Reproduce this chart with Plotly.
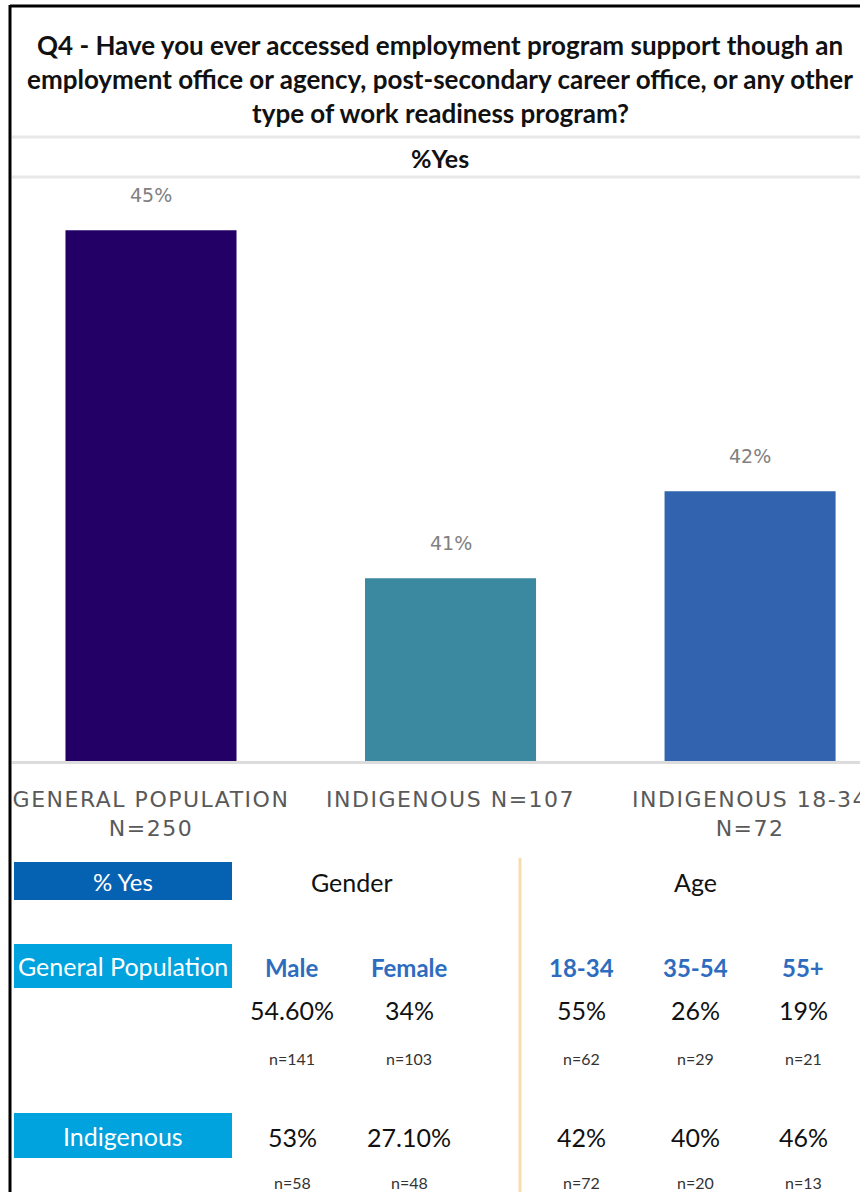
import plotly.graph_objects as go

# ---- chart data ----
categories = ["GENERAL POPULATION<br>N=250", "INDIGENOUS N=107", "INDIGENOUS 18-34<br>N=72"]
pct_yes = [45, 41, 42]
bar_colors = ["#220066", "#3a89a1", "#3163ae"]

title_lines = [
    "Q4 - Have you ever accessed employment program support though an",
    "employment office or agency, post-secondary career office, or any other",
    "type of work readiness program?",
]
subtitle = "%Yes"

# ---- breakdown table data ----
table_corner = "% Yes"
group_headers = ["Gender", "Age"]
subgroups = ["Male", "Female", "18-34", "35-54", "55+"]
row_labels = ["General Population", "Indigenous"]
gen_pop_pct = ["54.60%", "34%", "55%", "26%", "19%"]
gen_pop_n = [141, 103, 62, 29, 21]
indig_pct = ["53%", "27.10%", "42%", "40%", "46%"]
indig_n = [58, 48, 72, 20, 13]

# ---- page geometry (pixels) ----
W, H = 860, 1192
L, R, T, B = 12, 0, 180, 431
PW, PH = W - L - R, H - T - B
Y0 = H - B  # bottom of plot area in page pixels


def px(x):
    return (x - L) / PW


def py(y):
    return (Y0 - y) / PH


FONT_TXT = "Lato"
FONT_AX = "DejaVu Sans"

fig = go.Figure()
fig.add_trace(go.Bar(
    x=list(range(len(categories))),
    y=pct_yes,
    marker=dict(color=bar_colors, line=dict(width=0)),
    width=0.571,
    hoverinfo="skip",
))

annotations = []
shapes = []

# value labels above the bars
for i, v in enumerate(pct_yes):
    annotations.append(dict(
        x=i, y=v, xref="x", yref="y", text=f"{v}%", showarrow=False,
        yanchor="bottom", yshift=22,
        font=dict(family=FONT_AX, size=19, color="#808080"),
    ))

# title block
for j, line in enumerate(title_lines):
    annotations.append(dict(
        x=px(440), y=py(45 + 34 * j), xref="paper", yref="paper", text=f"<b>{line}</b>",
        showarrow=False, xanchor="center", yanchor="middle",
        font=dict(family=FONT_TXT, size=26, color="#111111"),
    ))
annotations.append(dict(
    x=px(440), y=py(158), xref="paper", yref="paper", text=f"<b>{subtitle}</b>",
    showarrow=False, xanchor="center", yanchor="middle",
    font=dict(family=FONT_TXT, size=25, color="#111111"),
))

# frame lines
shapes.append(dict(type="line", xref="paper", yref="paper", x0=px(10), x1=px(860), y0=py(6), y1=py(6),
                   line=dict(color="#000000", width=3)))
shapes.append(dict(type="line", xref="paper", yref="paper", x0=px(10), x1=px(10), y0=py(5), y1=py(1192),
                   line=dict(color="#000000", width=3)))
for yy in (137, 177):
    shapes.append(dict(type="line", xref="paper", yref="paper", x0=px(12), x1=px(860), y0=py(yy), y1=py(yy),
                       line=dict(color="#e8e8e8", width=3)))

# ---- table ----
def box(x0, x1, y0, y1, color):
    shapes.append(dict(type="rect", xref="paper", yref="paper", x0=px(x0), x1=px(x1), y0=py(y0), y1=py(y1),
                       fillcolor=color, line=dict(width=0), layer="above"))


def label(x, y, text, size, color, bold=False):
    annotations.append(dict(
        x=px(x), y=py(y), xref="paper", yref="paper",
        text=f"<b>{text}</b>" if bold else text, showarrow=False,
        xanchor="center", yanchor="middle",
        font=dict(family=FONT_TXT, size=size, color=color),
    ))


box(14, 232, 862, 900, "#0561b1")
label(123, 881, table_corner, 24, "#ffffff")
label(352, 882, group_headers[0], 25, "#111111")
label(695, 882, group_headers[1], 25, "#111111")

shapes.append(dict(type="line", xref="paper", yref="paper", x0=px(520), x1=px(520), y0=py(858), y1=py(1192),
                   line=dict(color="#f9dcae", width=3)))

col_x = [292, 409, 581, 695, 803]
box(14, 232, 944, 988, "#00a3de")
label(123, 966, row_labels[0], 25, "#ffffff")
for cx, s in zip(col_x, subgroups):
    label(cx, 967, s, 24, "#2e6cc0", bold=True)
for cx, v in zip(col_x, gen_pop_pct):
    label(cx, 1010, v, 25, "#111111")
for cx, n in zip(col_x, gen_pop_n):
    label(cx, 1058, f"n={n}", 16, "#333333")

box(14, 232, 1113, 1158, "#00a3de")
label(123, 1136, row_labels[1], 25, "#ffffff")
for cx, v in zip(col_x, indig_pct):
    label(cx, 1137, v, 25, "#111111")
for cx, n in zip(col_x, indig_n):
    label(cx, 1182, f"n={n}", 16, "#333333")

fig.update_layout(
    width=W, height=H,
    margin=dict(l=L, r=R, t=T, b=B, pad=0),
    paper_bgcolor="#ffffff", plot_bgcolor="#ffffff",
    showlegend=False,
    annotations=annotations,
    shapes=shapes,
    xaxis=dict(
        range=[-0.464, 2.367],
        tickmode="array", tickvals=list(range(len(categories))), ticktext=categories,
        tickfont=dict(family=FONT_AX, size=22, color="#595959"),
        ticklabeloverflow="allow",
        showgrid=False, zeroline=False,
        showline=True, linecolor="#dcdcdc", linewidth=3,
        ticks="", ticklabelstandoff=17,
        fixedrange=True,
    ),
    yaxis=dict(
        range=[38.9, 38.9 + PH / 87.0],
        showticklabels=False, showgrid=False, zeroline=False, showline=False,
        fixedrange=True,
    ),
)

# widen the tracking of the category labels
tracking_js = """
var gd = document.getElementsByClassName('plotly-graph-div')[0];
gd.querySelectorAll('.xtick text').forEach(function (t) {
    t.style.letterSpacing = '1.5px';
});
"""

fig.write_html("out.html", config={"displayModeBar": False}, post_script=tracking_js)
